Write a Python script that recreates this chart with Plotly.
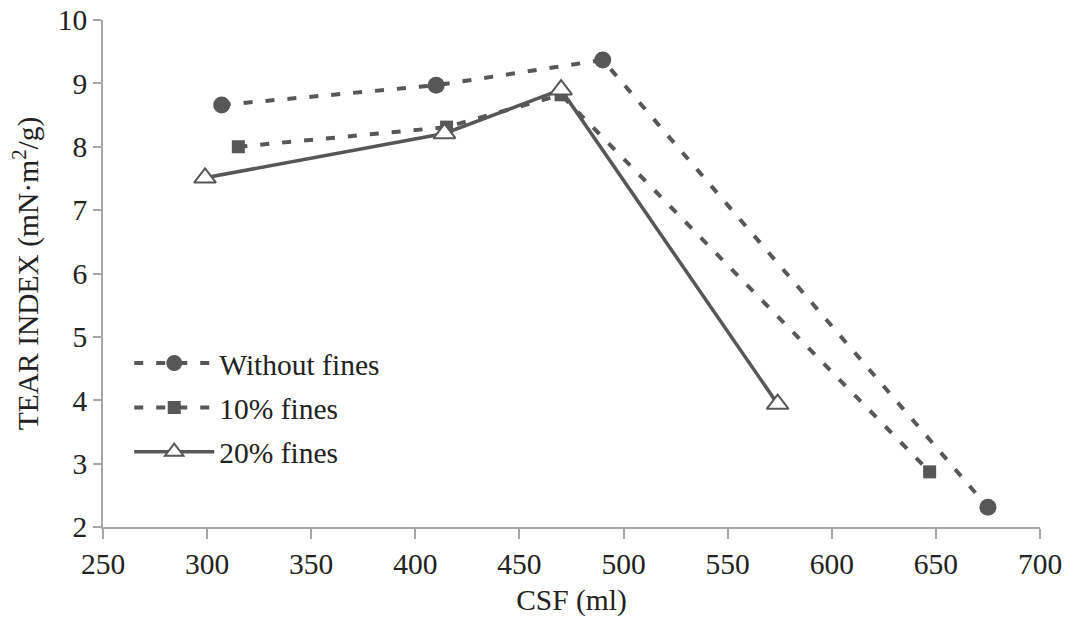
import plotly.graph_objects as go

csf_without = [307, 410, 490, 675]
tear_without = [8.66, 8.97, 9.37, 2.31]

csf_10 = [315, 415, 470, 647]
tear_10 = [8.0, 8.31, 8.82, 2.87]

csf_20 = [299, 414, 470, 574]
tear_20 = [7.51, 8.21, 8.90, 3.94]

names = ["Without fines", "10% fines", "20% fines"]
x_ticks = [250, 300, 350, 400, 450, 500, 550, 600, 650, 700]
y_ticks = [2, 3, 4, 5, 6, 7, 8, 9, 10]

GREY = "#575757"
AXIS = "#a6a6a6"
FONT = "Liberation Serif, Times New Roman, serif"
FS = 29.5

fig = go.Figure()
fig.add_trace(go.Scatter(
    x=csf_without, y=tear_without, name=names[0], mode="lines+markers",
    legendgroup="a",
    line=dict(color=GREY, width=4, dash="9px,13px"),
    marker=dict(symbol="circle", size=17, color=GREY),
))
fig.add_trace(go.Scatter(
    x=csf_10, y=tear_10, name=names[1], mode="lines+markers",
    legendgroup="b",
    line=dict(color=GREY, width=4, dash="9px,13px"),
    marker=dict(symbol="square", size=13, color=GREY),
))
fig.add_trace(go.Scatter(
    x=csf_20, y=tear_20, name=names[2], mode="lines+markers",
    legendgroup="c",
    line=dict(color=GREY, width=3.5),
    marker=dict(symbol="triangle-up", size=19, color="white",
                line=dict(color=GREY, width=2)),
))

fig.update_layout(
    width=1063, height=609,
    margin=dict(l=91, r=31, t=12, b=90),
    paper_bgcolor="white", plot_bgcolor="white",
    font=dict(family=FONT, size=FS, color="#222222"),
    showlegend=True,
    legend=dict(x=0.028, y=0.374, xanchor="left", yanchor="top",
                bgcolor="rgba(0,0,0,0)", font=dict(size=FS),
                itemwidth=80, traceorder="grouped", tracegroupgap=3),
    xaxis=dict(
        title=dict(text="CSF (ml)", font=dict(size=FS)),
        range=[250, 700], tickvals=x_ticks, ticktext=[str(v) for v in x_ticks],
        showgrid=False, zeroline=False, showline=True, linecolor=AXIS, linewidth=1.5,
        ticks="outside", ticklen=10, tickcolor=AXIS, tickwidth=1.5,
        tickfont=dict(size=FS), automargin=False, ticklabeloverflow="allow",
    ),
    yaxis=dict(
        title=dict(text="TEAR INDEX (mN·m<sup>2</sup>/g)", font=dict(size=FS), standoff=17),
        range=[2, 10], tickvals=y_ticks, ticktext=[str(v) for v in y_ticks],
        showgrid=False, zeroline=False, showline=True, linecolor=AXIS, linewidth=1.5,
        ticks="outside", ticklen=8, tickcolor=AXIS, tickwidth=1.5,
        tickfont=dict(size=FS), automargin="left", ticklabeloverflow="allow",
    ),
)

fig.write_html("out.html")
